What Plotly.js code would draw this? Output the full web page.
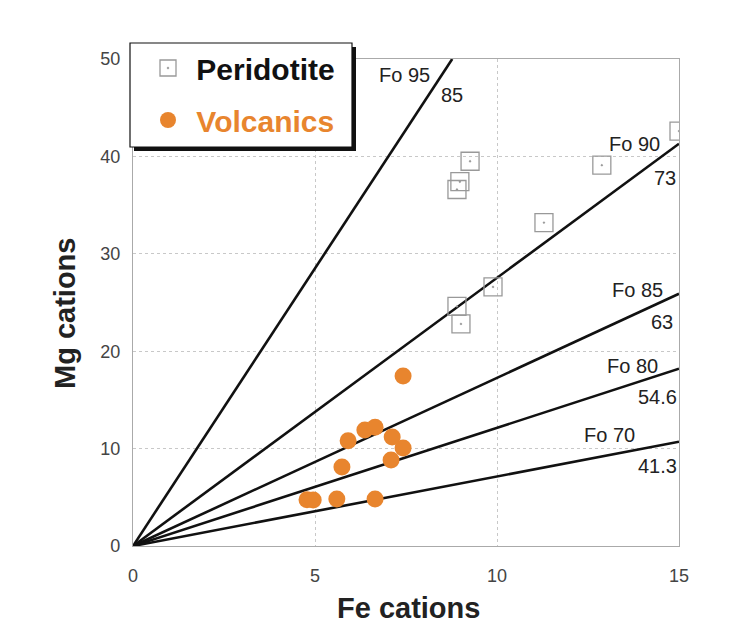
<!DOCTYPE html>
<html>
<head>
<meta charset="utf-8">
<script src="https://cdn.plot.ly/plotly-3.0.1.min.js"></script>
<style>html,body{margin:0;padding:0;background:#fff;}#chart{width:756px;height:627px;}</style>
</head>
<body>
<div id="chart"></div>
<script>
// Peridotite samples (Fe cations, Mg cations)
const peridotiteFe = [15.0, 12.88, 9.26, 8.98, 8.90, 11.29, 9.89, 8.90, 9.01];
const peridotiteMg = [42.6, 39.1, 39.5, 37.4, 36.6, 33.2, 26.6, 24.6, 22.8];

// Volcanic samples
const volcanicFe = [7.42, 6.37, 6.65, 5.91, 7.12, 7.42, 7.09, 5.74, 4.78, 4.95, 5.60, 6.65];
const volcanicMg = [17.45, 11.9, 12.2, 10.8, 11.2, 10.06, 8.83, 8.1, 4.75, 4.72, 4.83, 4.83];

// Forsterite equilibrium lines: start at origin, end points
const foNames   = ["Fo 95", "Fo 90", "Fo 85", "Fo 80", "Fo 70"];
const foSubs    = ["85", "73", "63", "54.6", "41.3"];
const foEndFe   = [8.77, 15, 15, 15, 15];
const foEndMg   = [50, 41.3, 25.9, 18.2, 10.7];

const xTicks = [0, 5, 10, 15];
const yTicks = [0, 10, 20, 30, 40, 50];

const FONT = "Liberation Sans, Arial, Helvetica, sans-serif";
const ORANGE = "#e8852e";

const traces = [];
foNames.forEach((n, i) => {
  traces.push({
    x: [0, foEndFe[i]], y: [0, foEndMg[i]],
    mode: "lines", type: "scatter",
    line: {color: "#111", width: 2.6},
    showlegend: false, hoverinfo: "skip"
  });
});
traces.push({
  x: peridotiteFe, y: peridotiteMg, mode: "markers", type: "scatter",
  name: "&nbsp;<b>Peridotite</b>", legendgroup: "a",
  marker: {symbol: "square-open-dot", size: 18, color: "#999", line: {width: 1.3, color: "#999"}}
});
traces.push({
  x: volcanicFe, y: volcanicMg, mode: "markers", type: "scatter",
  name: "&nbsp;<b><span style='color:" + ORANGE + "'>Volcanics</span></b>", legendgroup: "b",
  marker: {symbol: "circle", size: 17, color: ORANGE, line: {width: 0}}
});

// label positions (data coords)
const labelPos = [[7.47, 48.36], [13.79, 41.27], [13.85, 26.28], [13.71, 18.48], [13.1, 11.4]];
const subPos   = [[8.76, 46.3], [14.62, 37.78], [14.53, 23.0], [14.42, 15.3], [14.4, 8.2]];
const annotations = [];
foNames.forEach((n, i) => {
  annotations.push({x: labelPos[i][0], y: labelPos[i][1], xref: "x", yref: "y", text: n,
    showarrow: false, font: {family: FONT, size: 20, color: "#222"}});
  annotations.push({x: subPos[i][0], y: subPos[i][1], xref: "x", yref: "y", text: foSubs[i],
    showarrow: false, font: {family: FONT, size: 20, color: "#222"}});
});

const W = 756, H = 627, ml = 133, mr = 77, mt = 59, mb = 81;
const pw = W - ml - mr, ph = H - mt - mb;
const px = v => (v - ml) / pw;
const py = v => (H - mb - v) / ph;

annotations.push({xref: "paper", yref: "paper", x: px(408), y: py(608), xanchor: "center", yanchor: "middle",
  text: "<b>Fe cations</b>", showarrow: false, font: {family: FONT, size: 29, color: "#222"}});
annotations.push({xref: "paper", yref: "paper", x: px(65), y: py(314), xanchor: "center", yanchor: "middle",
  text: "<b>Mg cations</b>", textangle: -90, showarrow: false, font: {family: FONT, size: 29, color: "#222"}});

const shapes = [
  {type: "rect", xref: "paper", yref: "paper", x0: px(134), x1: px(356), y0: py(151), y1: py(47),
   fillcolor: "#111", line: {width: 0}, layer: "above"},
  {type: "rect", xref: "paper", yref: "paper", x0: px(130), x1: px(352), y0: py(147), y1: py(43),
   fillcolor: "#fff", line: {width: 1.2, color: "#111"}, layer: "above"}
];

const layout = {
  width: W, height: H,
  margin: {l: ml, r: mr, t: mt, b: mb},
  paper_bgcolor: "#fff", plot_bgcolor: "#fff",
  font: {family: FONT, color: "#333"},
  showlegend: true,
  legend: {x: px(148), y: py(42), xanchor: "left", yanchor: "top",
    bgcolor: "rgba(0,0,0,0)", borderwidth: 0,
    font: {family: FONT, size: 30, color: "#111"}, tracegroupgap: 10, itemwidth: 30},
  xaxis: {range: [0, 15], tickvals: xTicks, ticktext: xTicks.map(String),
    showgrid: true, gridcolor: "#c8c8c8", griddash: "dot", gridwidth: 1,
    zeroline: false, showline: true, linecolor: "#aaa", linewidth: 1.2, mirror: true,
    ticks: "", ticklabelstandoff: 13, tickfont: {family: FONT, size: 18, color: "#444"}},
  yaxis: {range: [0, 50], tickvals: yTicks, ticktext: yTicks.map(String),
    showgrid: true, gridcolor: "#c8c8c8", griddash: "dot", gridwidth: 1,
    zeroline: false, showline: true, linecolor: "#aaa", linewidth: 1.2, mirror: true,
    ticks: "", ticklabelstandoff: 8, tickfont: {family: FONT, size: 18, color: "#444"}},
  annotations: annotations,
  shapes: shapes
};

Plotly.newPlot("chart", traces, layout, {displayModeBar: false, staticPlot: true});
</script>
</body>
</html>
